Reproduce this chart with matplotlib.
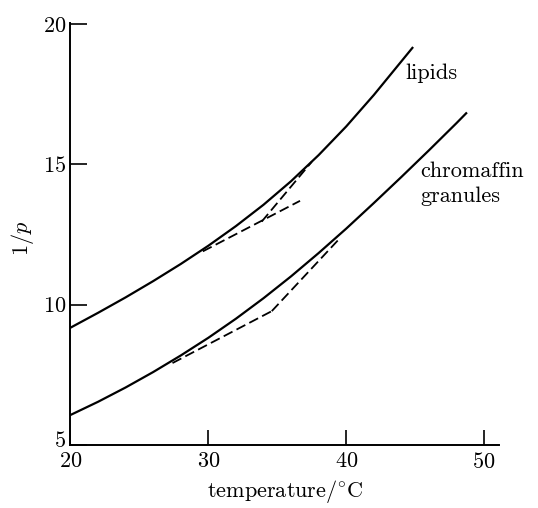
import matplotlib
matplotlib.use("Agg")
import matplotlib.pyplot as plt
from matplotlib.transforms import ScaledTranslation

plt.rcParams["font.family"] = "cmr10"
plt.rcParams["mathtext.fontset"] = "cm"
plt.rcParams["axes.formatter.use_mathtext"] = True

# curves (temperature in degC, 1/p)
lipid_t = [20, 22, 24, 26, 28, 30, 32, 34, 36, 38, 40, 42, 44, 44.8]
lipid_p = [9.18, 9.71, 10.26, 10.84, 11.45, 12.10, 12.80, 13.56, 14.40,
           15.33, 16.35, 17.47, 18.67, 19.15]

gran_t = [20, 22, 24, 26, 28, 30, 32, 34, 36, 38, 40, 42, 44, 46, 48, 48.7]
gran_p = [6.07, 6.54, 7.05, 7.60, 8.19, 8.82, 9.50, 10.23, 11.01, 11.84,
          12.71, 13.62, 14.55, 15.50, 16.47, 16.82]

# dashed tangent lines
lipid_low_t = [29.6, 36.65]
lipid_low_p = [11.9, 13.7]
lipid_high_t = [33.87, 37.5]
lipid_high_p = [12.96, 15.09]

gran_low_t = [27.4, 34.6]
gran_low_p = [7.92, 9.77]
gran_high_t = [34.6, 39.6]
gran_high_p = [9.77, 12.4]

fig = plt.figure(figsize=(5.38, 5.08), dpi=100)
ax = fig.add_axes([0.131, 0.124, 0.797, 0.8315])

ax.plot(lipid_t, lipid_p, color="black", lw=1.6)
ax.plot(gran_t, gran_p, color="black", lw=1.6)

dash = dict(color="black", lw=1.3, dashes=(5.5, 2.5))
ax.plot(lipid_low_t, lipid_low_p, **dash)
ax.plot(lipid_high_t, lipid_high_p, **dash)
ax.plot(gran_low_t, gran_low_p, **dash)
ax.plot(gran_high_t, gran_high_p, **dash)

ax.text(44.3, 18.25, "lipids", fontsize=16, va="center", ha="left")
ax.text(45.4, 14.75, "chromaffin", fontsize=16, va="center", ha="left")
ax.text(45.4, 13.85, "granules", fontsize=16, va="center", ha="left")

ax.set_xlim(20, 51.1)
ax.set_ylim(5, 20.05)
ax.set_xticks([20, 30, 40, 50])
ax.set_yticks([5, 10, 15, 20])

for side in ("top", "right"):
    ax.spines[side].set_visible(False)
for side in ("left", "bottom"):
    ax.spines[side].set_linewidth(1.4)

ax.tick_params(axis="x", direction="in", length=11, width=1.2, pad=5, labelsize=16)
ax.tick_params(axis="y", direction="in", length=12.5, width=1.2, pad=3, labelsize=16)

# the "5" sits a little above the x axis in the original
lift = ScaledTranslation(0, 4 / 72, fig.dpi_scale_trans)
lbl5 = ax.yaxis.get_major_ticks()[0].label1
lbl5.set_transform(lbl5.get_transform() + lift)

ax.set_xlabel(r"temperature/$^{\circ}$C", fontsize=16, labelpad=4)
ax.set_ylabel(r"$1/p$", fontsize=16)
ax.yaxis.set_label_coords(-0.08, 0.49)

fig.savefig("out.png", dpi=100)
